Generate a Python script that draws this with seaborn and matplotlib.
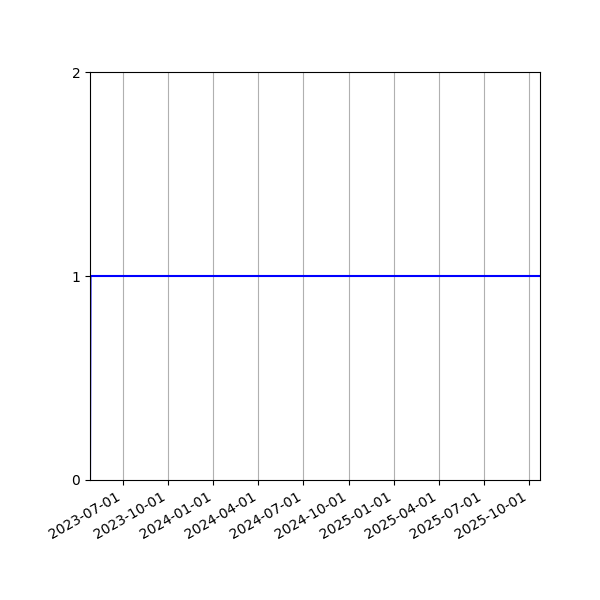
import pandas as pd
import matplotlib
matplotlib.use("Agg")
import matplotlib.pyplot as plt
import matplotlib.dates as mdates
import seaborn as sns

# readings (value jumps from 0 to 1 right at the start and stays there)
dates = ["2023-04-26", "2023-04-27", "2025-10-23"]
values = [0, 1, 1]
y_ticks = [0, 1, 2]

df = pd.DataFrame({"date": pd.to_datetime(dates), "value": values})

fig, ax = plt.subplots(figsize=(6, 6), dpi=100)
sns.lineplot(data=df, x="date", y="value", color="blue", linewidth=1.5, ax=ax)

ax.set_xlim(df["date"].min(), df["date"].max())
ax.set_ylim(0, 2)
ax.set_yticks(y_ticks)
ax.set_xlabel("")
ax.set_ylabel("")
ax.xaxis.set_major_locator(mdates.MonthLocator(bymonth=[1, 4, 7, 10]))
ax.xaxis.set_major_formatter(mdates.DateFormatter("%Y-%m-%d"))
ax.grid(axis="x")
fig.autofmt_xdate()
plt.subplots_adjust(left=0.15, right=0.9, top=0.88, bottom=0.2)

plt.savefig("out.png")
